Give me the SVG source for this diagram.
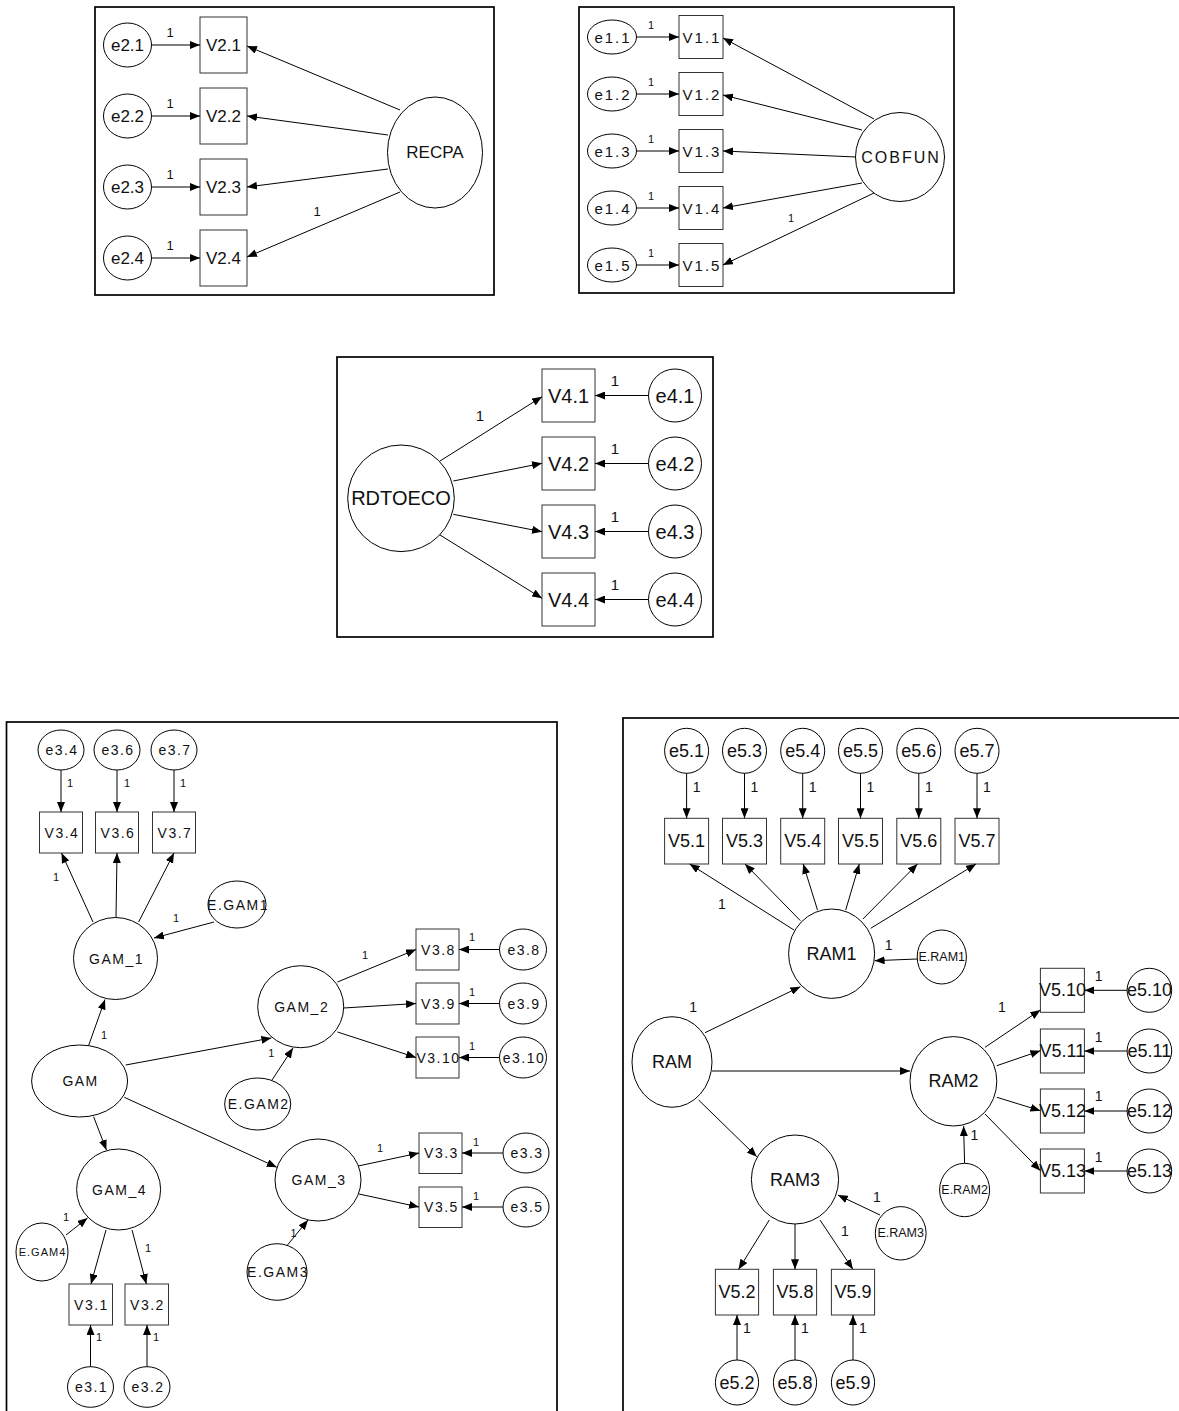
<svg xmlns="http://www.w3.org/2000/svg" width="1179" height="1411" viewBox="0 0 1179 1411">
<defs>
<marker id="ah" viewBox="0 0 10 8" refX="10" refY="4" markerWidth="10" markerHeight="8" markerUnits="userSpaceOnUse" orient="auto"><path d="M0,0 L10,4 L0,8 z" fill="#000"/></marker>
<style>
.n{fill:#fff;stroke:#000;stroke-width:1}
.b{fill:#fff;stroke:#333;stroke-width:1}
.frame{fill:none;stroke:#000;stroke-width:1.7}
.c line{stroke:#000;stroke-width:1;marker-end:url(#ah)}
text{font-family:"Liberation Sans",Arial,sans-serif;fill:#111;text-anchor:middle;dominant-baseline:central}
.tl{font-size:17px}
.tr{font-size:15px;letter-spacing:2px}
.md{font-size:20px}
.bl{font-size:14px;letter-spacing:1.5px}
.bs{font-size:11px;letter-spacing:1px}
.br{font-size:18px}
.bre{font-size:12.5px}
.w1{font-size:13px}
.w2{font-size:11px}
.w3{font-size:15px}
.w4{font-size:11px}
.w5{font-size:14px}
</style>
</defs>
<rect width="1179" height="1411" fill="#fff"/>

<!-- frames -->
<rect class="frame" x="95" y="7" width="399" height="288"/>
<rect class="frame" x="579" y="7" width="375" height="286"/>
<rect class="frame" x="337" y="357" width="376" height="280"/>
<rect class="frame" x="6.5" y="722" width="550.5" height="760"/>
<rect class="frame" x="623" y="718" width="620" height="760"/>

<!-- ===== Top-left: RECPA ===== -->
<g id="e2.1"><ellipse class="n" cx="127.5" cy="45" rx="24" ry="22"/><text class="tl" x="127.5" y="45">e2.1</text></g>
<g id="e2.2"><ellipse class="n" cx="127.5" cy="116" rx="24" ry="22"/><text class="tl" x="127.5" y="116">e2.2</text></g>
<g id="e2.3"><ellipse class="n" cx="127.5" cy="187" rx="24" ry="22"/><text class="tl" x="127.5" y="187">e2.3</text></g>
<g id="e2.4"><ellipse class="n" cx="127.5" cy="258" rx="24" ry="22"/><text class="tl" x="127.5" y="258">e2.4</text></g>
<g id="V2.1"><rect class="b" x="200" y="17" width="47" height="56"/><text class="tl" x="223.5" y="45">V2.1</text></g>
<g id="V2.2"><rect class="b" x="200" y="88" width="47" height="56"/><text class="tl" x="223.5" y="116">V2.2</text></g>
<g id="V2.3"><rect class="b" x="200" y="159" width="47" height="56"/><text class="tl" x="223.5" y="187">V2.3</text></g>
<g id="V2.4"><rect class="b" x="200" y="230" width="47" height="56"/><text class="tl" x="223.5" y="258">V2.4</text></g>
<g id="RECPA"><ellipse class="n" cx="435" cy="152.5" rx="47.5" ry="55.5"/><text class="tl" x="435" y="152.5">RECPA</text></g>

<!-- ===== Top-right: COBFUN ===== -->
<g id="e1.1"><ellipse class="n" cx="612" cy="37" rx="24.5" ry="17"/><text class="tr" x="613" y="37">e1.1</text></g>
<g id="e1.2"><ellipse class="n" cx="612" cy="94" rx="24.5" ry="17"/><text class="tr" x="613" y="94">e1.2</text></g>
<g id="e1.3"><ellipse class="n" cx="612" cy="151" rx="24.5" ry="17"/><text class="tr" x="613" y="151">e1.3</text></g>
<g id="e1.4"><ellipse class="n" cx="612" cy="208" rx="24.5" ry="17"/><text class="tr" x="613" y="208">e1.4</text></g>
<g id="e1.5"><ellipse class="n" cx="612" cy="265" rx="24.5" ry="17"/><text class="tr" x="613" y="265">e1.5</text></g>
<g id="V1.1"><rect class="b" x="679" y="15.5" width="44" height="43"/><text class="tr" x="702" y="37">V1.1</text></g>
<g id="V1.2"><rect class="b" x="679" y="72.5" width="44" height="43"/><text class="tr" x="702" y="94">V1.2</text></g>
<g id="V1.3"><rect class="b" x="679" y="129.5" width="44" height="43"/><text class="tr" x="702" y="151">V1.3</text></g>
<g id="V1.4"><rect class="b" x="679" y="186.5" width="44" height="43"/><text class="tr" x="702" y="208">V1.4</text></g>
<g id="V1.5"><rect class="b" x="679" y="243.5" width="44" height="43"/><text class="tr" x="702" y="265">V1.5</text></g>
<g id="COBFUN"><circle class="n" cx="900" cy="157" r="44.5"/><text class="tr" x="901" y="157" style="font-size:16px">COBFUN</text></g>

<!-- ===== Middle: RDTOECO ===== -->
<g id="RDTOECO"><circle class="n" cx="401" cy="498.3" r="53.3"/><text class="md" x="401" y="498.3">RDTOECO</text></g>
<g id="V4.1"><rect class="b" x="542" y="369" width="53" height="53"/><text class="md" x="568.5" y="395.5">V4.1</text></g>
<g id="V4.2"><rect class="b" x="542" y="437" width="53" height="53"/><text class="md" x="568.5" y="463.5">V4.2</text></g>
<g id="V4.3"><rect class="b" x="542" y="505" width="53" height="53"/><text class="md" x="568.5" y="531.5">V4.3</text></g>
<g id="V4.4"><rect class="b" x="542" y="573" width="53" height="53"/><text class="md" x="568.5" y="599.5">V4.4</text></g>
<g id="e4.1"><circle class="n" cx="675" cy="395.5" r="26.5"/><text class="md" x="675" y="395.5">e4.1</text></g>
<g id="e4.2"><circle class="n" cx="675" cy="463.5" r="26.5"/><text class="md" x="675" y="463.5">e4.2</text></g>
<g id="e4.3"><circle class="n" cx="675" cy="531.5" r="26.5"/><text class="md" x="675" y="531.5">e4.3</text></g>
<g id="e4.4"><circle class="n" cx="675" cy="599.5" r="26.5"/><text class="md" x="675" y="599.5">e4.4</text></g>

<!-- ===== Bottom-left: GAM ===== -->
<g id="e3.4"><ellipse class="n" cx="61" cy="750" rx="23" ry="20"/><text class="bl" x="62" y="750">e3.4</text></g>
<g id="e3.6"><ellipse class="n" cx="117" cy="750" rx="23" ry="20"/><text class="bl" x="118" y="750">e3.6</text></g>
<g id="e3.7"><ellipse class="n" cx="174" cy="750" rx="23" ry="20"/><text class="bl" x="175" y="750">e3.7</text></g>
<g id="V3.4"><rect class="b" x="39.5" y="812" width="43" height="41"/><text class="bl" x="62" y="832.5">V3.4</text></g>
<g id="V3.6"><rect class="b" x="95.5" y="812" width="43" height="41"/><text class="bl" x="118" y="832.5">V3.6</text></g>
<g id="V3.7"><rect class="b" x="152.5" y="812" width="43" height="41"/><text class="bl" x="175" y="832.5">V3.7</text></g>
<g id="GAM_1"><ellipse class="n" cx="115.5" cy="958.5" rx="42" ry="41"/><text class="bl" x="116.5" y="958.5">GAM_1</text></g>
<g id="E.GAM1"><ellipse class="n" cx="237" cy="904.5" rx="29" ry="23.5"/><text class="bl" x="238" y="904.5">E.GAM1</text></g>
<g id="V3.8"><rect class="b" x="416" y="929" width="43" height="41"/><text class="bl" x="438.5" y="949.5">V3.8</text></g>
<g id="V3.9"><rect class="b" x="416" y="983" width="43" height="41"/><text class="bl" x="438.5" y="1003.5">V3.9</text></g>
<g id="V3.10"><rect class="b" x="416" y="1037" width="43" height="41"/><text class="bl" x="438.5" y="1057.5">V3.10</text></g>
<g id="e3.8"><ellipse class="n" cx="523" cy="949.5" rx="23.5" ry="20.5"/><text class="bl" x="524" y="949.5">e3.8</text></g>
<g id="e3.9"><ellipse class="n" cx="523" cy="1003.5" rx="23.5" ry="20.5"/><text class="bl" x="524" y="1003.5">e3.9</text></g>
<g id="e3.10"><ellipse class="n" cx="523" cy="1057.5" rx="23.5" ry="20.5"/><text class="bl" x="524" y="1057.5">e3.10</text></g>
<g id="GAM_2"><ellipse class="n" cx="300.7" cy="1006.7" rx="43" ry="41"/><text class="bl" x="301.7" y="1006.7">GAM_2</text></g>
<g id="GAM"><ellipse class="n" cx="79.6" cy="1081" rx="48" ry="36"/><text class="bl" x="80.6" y="1081">GAM</text></g>
<g id="E.GAM2"><ellipse class="n" cx="257.7" cy="1104" rx="33" ry="26"/><text class="bl" x="258.7" y="1104">E.GAM2</text></g>
<g id="GAM_3"><ellipse class="n" cx="318" cy="1180" rx="43" ry="41"/><text class="bl" x="319" y="1180">GAM_3</text></g>
<g id="V3.3"><rect class="b" x="419" y="1133" width="43" height="40.5"/><text class="bl" x="441.5" y="1153">V3.3</text></g>
<g id="V3.5"><rect class="b" x="419" y="1187" width="43" height="40.5"/><text class="bl" x="441.5" y="1207">V3.5</text></g>
<g id="e3.3"><ellipse class="n" cx="526" cy="1153" rx="23" ry="20"/><text class="bl" x="527" y="1153">e3.3</text></g>
<g id="e3.5"><ellipse class="n" cx="526" cy="1207" rx="23" ry="20"/><text class="bl" x="527" y="1207">e3.5</text></g>
<g id="E.GAM3"><ellipse class="n" cx="277" cy="1272" rx="30" ry="28.3"/><text class="bl" x="278" y="1272">E.GAM3</text></g>
<g id="GAM_4"><ellipse class="n" cx="118.6" cy="1189.5" rx="42" ry="40.5"/><text class="bl" x="119.6" y="1189.5">GAM_4</text></g>
<g id="E.GAM4"><ellipse class="n" cx="42" cy="1252" rx="26" ry="29"/><text class="bs" x="42.5" y="1252">E.GAM4</text></g>
<g id="V3.1"><rect class="b" x="69" y="1284" width="43.5" height="41"/><text class="bl" x="91.5" y="1304.5">V3.1</text></g>
<g id="V3.2"><rect class="b" x="125" y="1284" width="43.5" height="41"/><text class="bl" x="147.5" y="1304.5">V3.2</text></g>
<g id="e3.1"><ellipse class="n" cx="90.5" cy="1387" rx="23" ry="20.3"/><text class="bl" x="91.5" y="1387">e3.1</text></g>
<g id="e3.2"><ellipse class="n" cx="147" cy="1387" rx="23" ry="20.3"/><text class="bl" x="148" y="1387">e3.2</text></g>

<!-- ===== Bottom-right: RAM ===== -->
<g id="e5.1"><ellipse class="n" cx="686.6" cy="750.8" rx="22" ry="22.5"/><text class="br" x="686.6" y="750.8">e5.1</text></g>
<g id="e5.3"><ellipse class="n" cx="744.5" cy="750.8" rx="22" ry="22.5"/><text class="br" x="744.5" y="750.8">e5.3</text></g>
<g id="e5.4"><ellipse class="n" cx="802.7" cy="750.8" rx="22" ry="22.5"/><text class="br" x="802.7" y="750.8">e5.4</text></g>
<g id="e5.5"><ellipse class="n" cx="860.5" cy="750.8" rx="22" ry="22.5"/><text class="br" x="860.5" y="750.8">e5.5</text></g>
<g id="e5.6"><ellipse class="n" cx="918.8" cy="750.8" rx="22" ry="22.5"/><text class="br" x="918.8" y="750.8">e5.6</text></g>
<g id="e5.7"><ellipse class="n" cx="977" cy="750.8" rx="22" ry="22.5"/><text class="br" x="977" y="750.8">e5.7</text></g>
<g id="V5.1"><rect class="b" x="664.6" y="818.3" width="44" height="45.7"/><text class="br" x="686.6" y="841.2">V5.1</text></g>
<g id="V5.3"><rect class="b" x="722.5" y="818.3" width="44" height="45.7"/><text class="br" x="744.5" y="841.2">V5.3</text></g>
<g id="V5.4"><rect class="b" x="780.7" y="818.3" width="44" height="45.7"/><text class="br" x="802.7" y="841.2">V5.4</text></g>
<g id="V5.5"><rect class="b" x="838.5" y="818.3" width="44" height="45.7"/><text class="br" x="860.5" y="841.2">V5.5</text></g>
<g id="V5.6"><rect class="b" x="896.8" y="818.3" width="44" height="45.7"/><text class="br" x="918.8" y="841.2">V5.6</text></g>
<g id="V5.7"><rect class="b" x="955" y="818.3" width="44" height="45.7"/><text class="br" x="977" y="841.2">V5.7</text></g>
<g id="RAM1"><ellipse class="n" cx="831.6" cy="953.7" rx="43" ry="44.7"/><text class="br" x="831.6" y="953.7">RAM1</text></g>
<g id="E.RAM1"><ellipse class="n" cx="941.8" cy="957" rx="24.6" ry="27"/><text class="bre" x="941.8" y="957">E.RAM1</text></g>
<g id="RAM"><ellipse class="n" cx="672" cy="1062" rx="40" ry="45.3"/><text class="br" x="672" y="1062">RAM</text></g>
<g id="RAM2"><ellipse class="n" cx="953.4" cy="1081.3" rx="43.4" ry="44.7"/><text class="br" x="953.4" y="1081.3">RAM2</text></g>
<g id="V5.10"><rect class="b" x="1040.4" y="968.3" width="44" height="44"/><text class="br" x="1062.4" y="990.3">V5.10</text></g>
<g id="V5.11"><rect class="b" x="1040.4" y="1029" width="44" height="44"/><text class="br" x="1062.4" y="1051">V5.11</text></g>
<g id="V5.12"><rect class="b" x="1040.4" y="1089" width="44" height="44"/><text class="br" x="1062.4" y="1111">V5.12</text></g>
<g id="V5.13"><rect class="b" x="1040.4" y="1149" width="44" height="44"/><text class="br" x="1062.4" y="1171">V5.13</text></g>
<g id="e5.10"><ellipse class="n" cx="1149.4" cy="990.3" rx="22.3" ry="22"/><text class="br" x="1149.4" y="990.3">e5.10</text></g>
<g id="e5.11"><ellipse class="n" cx="1149.4" cy="1051" rx="22.3" ry="22"/><text class="br" x="1149.4" y="1051">e5.11</text></g>
<g id="e5.12"><ellipse class="n" cx="1149.4" cy="1111" rx="22.3" ry="22"/><text class="br" x="1149.4" y="1111">e5.12</text></g>
<g id="e5.13"><ellipse class="n" cx="1149.4" cy="1171" rx="22.3" ry="22"/><text class="br" x="1149.4" y="1171">e5.13</text></g>
<g id="E.RAM2"><ellipse class="n" cx="964.6" cy="1190" rx="25" ry="26.7"/><text class="bre" x="964.6" y="1190">E.RAM2</text></g>
<g id="RAM3"><ellipse class="n" cx="795" cy="1179.5" rx="43.6" ry="44.5"/><text class="br" x="795" y="1179.5">RAM3</text></g>
<g id="E.RAM3"><ellipse class="n" cx="900.7" cy="1233.3" rx="25.4" ry="26.7"/><text class="bre" x="900.7" y="1233.3">E.RAM3</text></g>
<g id="V5.2"><rect class="b" x="715.4" y="1269.3" width="43.2" height="45.7"/><text class="br" x="737" y="1292.2">V5.2</text></g>
<g id="V5.8"><rect class="b" x="773.4" y="1269.3" width="43.2" height="45.7"/><text class="br" x="795" y="1292.2">V5.8</text></g>
<g id="V5.9"><rect class="b" x="831.4" y="1269.3" width="43.2" height="45.7"/><text class="br" x="853" y="1292.2">V5.9</text></g>
<g id="e5.2"><ellipse class="n" cx="737" cy="1382.5" rx="21.6" ry="22.5"/><text class="br" x="737" y="1382.5">e5.2</text></g>
<g id="e5.8"><ellipse class="n" cx="795" cy="1382.5" rx="21.6" ry="22.5"/><text class="br" x="795" y="1382.5">e5.8</text></g>
<g id="e5.9"><ellipse class="n" cx="853" cy="1382.5" rx="21.6" ry="22.5"/><text class="br" x="853" y="1382.5">e5.9</text></g>

<!-- ===== connectors ===== -->
<g id="connectors" class="c">
<line x1="151.5" y1="45" x2="200" y2="45"/>
<line x1="151.5" y1="116" x2="200" y2="116"/>
<line x1="151.5" y1="187" x2="200" y2="187"/>
<line x1="151.5" y1="258" x2="200" y2="258"/>
<line x1="400" y1="110" x2="247" y2="46"/>
<line x1="388" y1="135" x2="247" y2="116"/>
<line x1="388" y1="169" x2="247" y2="187"/>
<line x1="400" y1="192" x2="247" y2="257"/>
<line x1="636.5" y1="37" x2="679" y2="37"/>
<line x1="636.5" y1="94" x2="679" y2="94"/>
<line x1="636.5" y1="151" x2="679" y2="151"/>
<line x1="636.5" y1="208" x2="679" y2="208"/>
<line x1="636.5" y1="265" x2="679" y2="265"/>
<line x1="874" y1="119" x2="723" y2="38"/>
<line x1="862" y1="130" x2="723" y2="95"/>
<line x1="855.5" y1="157" x2="723" y2="151"/>
<line x1="862" y1="183" x2="723" y2="208"/>
<line x1="874" y1="193" x2="723" y2="265"/>
<line x1="440" y1="461" x2="542" y2="396.7"/>
<line x1="453.3" y1="481" x2="542" y2="463.3"/>
<line x1="453.3" y1="514.3" x2="542" y2="531.7"/>
<line x1="440" y1="535" x2="542" y2="598.3"/>
<line x1="648.5" y1="395.5" x2="595" y2="395.5"/>
<line x1="648.5" y1="463.5" x2="595" y2="463.5"/>
<line x1="648.5" y1="531.5" x2="595" y2="531.5"/>
<line x1="648.5" y1="599.5" x2="595" y2="599.5"/>
<line x1="61" y1="770" x2="61" y2="812"/>
<line x1="117" y1="770" x2="117" y2="812"/>
<line x1="174" y1="770" x2="174" y2="812"/>
<line x1="93" y1="922" x2="61.5" y2="853"/>
<line x1="116" y1="917.5" x2="117" y2="853"/>
<line x1="138.6" y1="922" x2="174" y2="853"/>
<line x1="214" y1="922" x2="154" y2="938"/>
<line x1="499.5" y1="949.5" x2="459" y2="949.5"/>
<line x1="499.5" y1="1003.5" x2="459" y2="1003.5"/>
<line x1="499.5" y1="1057.5" x2="459" y2="1057.5"/>
<line x1="337.5" y1="982" x2="416" y2="949.5"/>
<line x1="343.6" y1="1008" x2="416" y2="1003.5"/>
<line x1="337.5" y1="1032" x2="416" y2="1057.5"/>
<line x1="88.6" y1="1045.5" x2="105" y2="999.5"/>
<line x1="125.7" y1="1065" x2="271.4" y2="1038"/>
<line x1="124.3" y1="1097.3" x2="276.8" y2="1167.3"/>
<line x1="93.6" y1="1116.7" x2="106.4" y2="1150"/>
<line x1="272" y1="1080" x2="293" y2="1048"/>
<line x1="358.2" y1="1166" x2="419" y2="1153"/>
<line x1="359" y1="1194" x2="419" y2="1207"/>
<line x1="503" y1="1153" x2="462" y2="1153"/>
<line x1="503" y1="1207" x2="462" y2="1207"/>
<line x1="287.5" y1="1245" x2="308" y2="1220"/>
<line x1="66" y1="1235" x2="87.5" y2="1218"/>
<line x1="106" y1="1230" x2="91" y2="1284"/>
<line x1="132" y1="1230" x2="146.4" y2="1284"/>
<line x1="90.5" y1="1366.7" x2="90.5" y2="1325"/>
<line x1="147" y1="1366.7" x2="147" y2="1325"/>
<line x1="686.6" y1="773.3" x2="686.6" y2="818.3"/>
<line x1="744.5" y1="773.3" x2="744.5" y2="818.3"/>
<line x1="802.7" y1="773.3" x2="802.7" y2="818.3"/>
<line x1="860.5" y1="773.3" x2="860.5" y2="818.3"/>
<line x1="918.8" y1="773.3" x2="918.8" y2="818.3"/>
<line x1="977" y1="773.3" x2="977" y2="818.3"/>
<line x1="794" y1="930" x2="689.6" y2="864"/>
<line x1="800.4" y1="920.7" x2="745" y2="864"/>
<line x1="817.5" y1="910" x2="803.2" y2="864"/>
<line x1="845.7" y1="910" x2="859.3" y2="864"/>
<line x1="862.9" y1="919" x2="917.5" y2="864"/>
<line x1="870.7" y1="928.3" x2="976" y2="864"/>
<line x1="917" y1="959" x2="874.6" y2="960.7"/>
<line x1="705" y1="1032.7" x2="800.4" y2="986.7"/>
<line x1="712" y1="1071" x2="910" y2="1071"/>
<line x1="698.6" y1="1100" x2="756.8" y2="1156.7"/>
<line x1="985" y1="1047.3" x2="1040.4" y2="1010"/>
<line x1="996.8" y1="1065.7" x2="1040.4" y2="1050.7"/>
<line x1="996.8" y1="1097.3" x2="1040.4" y2="1110.7"/>
<line x1="985" y1="1114" x2="1040.4" y2="1170.7"/>
<line x1="1127" y1="990.3" x2="1084.4" y2="990.3"/>
<line x1="1127" y1="1051" x2="1084.4" y2="1051"/>
<line x1="1127" y1="1111" x2="1084.4" y2="1111"/>
<line x1="1127" y1="1171" x2="1084.4" y2="1171"/>
<line x1="964.6" y1="1163.3" x2="963.6" y2="1126"/>
<line x1="880" y1="1215" x2="837.9" y2="1195"/>
<line x1="769.3" y1="1220" x2="738.6" y2="1269.3"/>
<line x1="795" y1="1224" x2="795" y2="1269.3"/>
<line x1="820" y1="1220" x2="852.9" y2="1269.3"/>
<line x1="737" y1="1360" x2="737" y2="1315"/>
<line x1="795" y1="1360" x2="795" y2="1315"/>
<line x1="853" y1="1360" x2="853" y2="1315"/>
</g>

<!-- ===== path labels ===== -->
<g id="labels">
<text class="w1" x="170" y="32">1</text>
<text class="w1" x="170" y="103">1</text>
<text class="w1" x="170" y="174">1</text>
<text class="w1" x="170" y="245">1</text>
<text class="w1" x="317" y="211">1</text>
<text class="w2" x="651" y="25">1</text>
<text class="w2" x="651" y="82">1</text>
<text class="w2" x="651" y="139">1</text>
<text class="w2" x="651" y="196">1</text>
<text class="w2" x="651" y="253">1</text>
<text class="w2" x="791" y="218">1</text>
<text class="w3" x="480" y="415">1</text>
<text class="w3" x="615" y="380">1</text>
<text class="w3" x="615" y="448">1</text>
<text class="w3" x="615" y="516.5">1</text>
<text class="w3" x="615" y="584">1</text>
<text class="w4" x="70" y="783">1</text>
<text class="w4" x="127" y="783">1</text>
<text class="w4" x="183" y="783">1</text>
<text class="w4" x="56" y="877">1</text>
<text class="w4" x="176" y="918">1</text>
<text class="w4" x="365" y="955">1</text>
<text class="w4" x="472" y="937">1</text>
<text class="w4" x="472" y="991.5">1</text>
<text class="w4" x="472" y="1046">1</text>
<text class="w4" x="104" y="1035">1</text>
<text class="w4" x="271.4" y="1053">1</text>
<text class="w4" x="380" y="1148">1</text>
<text class="w4" x="476" y="1142">1</text>
<text class="w4" x="476" y="1196">1</text>
<text class="w4" x="293.6" y="1233">1</text>
<text class="w4" x="66" y="1217">1</text>
<text class="w4" x="148" y="1248">1</text>
<text class="w4" x="99" y="1337">1</text>
<text class="w4" x="156" y="1337">1</text>
<text class="w5" x="696.6" y="786.7">1</text>
<text class="w5" x="754.5" y="786.7">1</text>
<text class="w5" x="812.7" y="786.7">1</text>
<text class="w5" x="870.5" y="786.7">1</text>
<text class="w5" x="928.8" y="786.7">1</text>
<text class="w5" x="987" y="786.7">1</text>
<text class="w5" x="721.8" y="904">1</text>
<text class="w5" x="888.6" y="945">1</text>
<text class="w5" x="693.2" y="1006.5">1</text>
<text class="w5" x="1002" y="1006.5">1</text>
<text class="w5" x="1098.6" y="976">1</text>
<text class="w5" x="1098.6" y="1037.3">1</text>
<text class="w5" x="1098.6" y="1096">1</text>
<text class="w5" x="1098.6" y="1156.7">1</text>
<text class="w5" x="974.3" y="1135">1</text>
<text class="w5" x="877" y="1197.3">1</text>
<text class="w5" x="845" y="1230.7">1</text>
<text class="w5" x="746.8" y="1328.3">1</text>
<text class="w5" x="805" y="1328.3">1</text>
<text class="w5" x="862.9" y="1328.3">1</text>
</g>
</svg>
